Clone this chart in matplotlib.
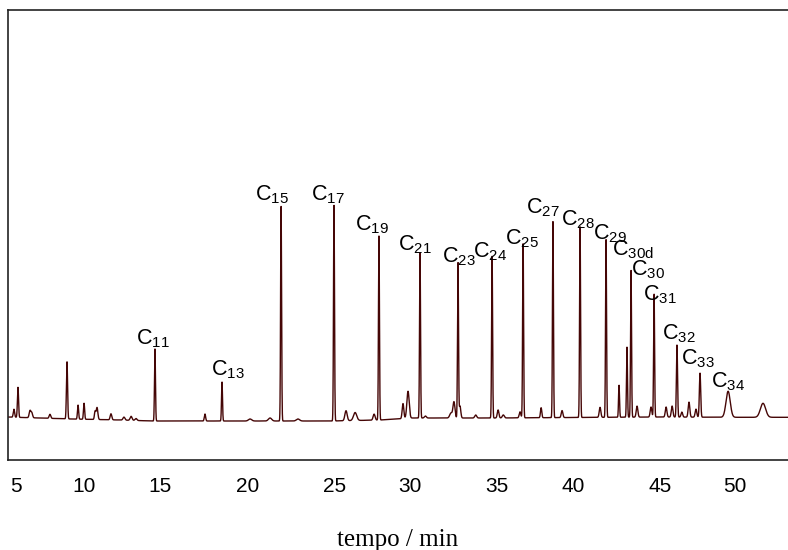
import numpy as np
import matplotlib.pyplot as plt

# peak table: retention time (min), height above baseline, width (sigma, min)
peak_times = [5.45, 5.70, 6.44, 6.55, 7.67, 8.72, 9.40, 9.77, 10.45, 10.57,
              11.43, 12.23, 12.67, 12.97, 14.14, 17.22, 18.27, 20.00, 21.23, 21.91,
              22.95, 25.17, 25.91, 26.47, 27.64, 27.94, 29.42, 29.73, 30.47, 30.80,
              32.38, 32.56, 32.81, 32.93, 33.90, 34.91, 35.28, 35.60, 36.63, 36.82,
              37.93, 38.66, 39.22, 40.33, 41.56, 41.93, 42.73, 43.22, 43.47, 43.84,
              44.70, 44.89, 45.63, 46.00, 46.30, 46.60, 47.04, 47.47, 47.72, 49.45,
              51.60]
peak_heights = [8, 30, 7, 5, 4, 57, 14, 16, 8, 12,
                6, 3, 4, 2, 72, 7, 39, 2, 3, 215,
                2, 216, 10, 8, 6, 184, 15, 27, 165, 2,
                5, 16, 155, 12, 3, 162, 8, 3, 6, 174,
                10, 196, 7, 191, 10, 178, 32, 70, 147, 11,
                10, 123, 10, 11, 72, 5, 15, 8, 44, 26,
                14]
peak_widths = [0.04, 0.035, 0.05, 0.05, 0.05, 0.035, 0.035, 0.035, 0.04, 0.05,
               0.05, 0.06, 0.06, 0.06, 0.03, 0.04, 0.03, 0.1, 0.1, 0.03,
               0.1, 0.03, 0.07, 0.1, 0.06, 0.03, 0.05, 0.07, 0.03, 0.06,
               0.08, 0.06, 0.03, 0.05, 0.06, 0.03, 0.05, 0.06, 0.05, 0.03,
               0.04, 0.03, 0.05, 0.03, 0.05, 0.03, 0.03, 0.03, 0.03, 0.05,
               0.05, 0.03, 0.05, 0.05, 0.035, 0.05, 0.05, 0.05, 0.04, 0.13,
               0.16]

# baseline level read at a few times
base_times = [5.0, 6.0, 7.0, 9.0, 12.0, 14.0, 18.0, 22.0, 25.0, 28.0, 30.0, 35.0, 40.0, 45.0, 50.0, 53.2]
base_level = [43, 42.5, 42, 41, 40, 39, 39, 39, 39, 40, 42, 42, 42.5, 43, 42.7, 42.7]

# x tick labels and where they sit on the original figure
tick_labels = ['5', '10', '15', '20', '25', '30', '35', '40', '45', '50']
tick_at = [5.58, 9.77, 14.45, 19.87, 25.23, 29.85, 35.21, 39.90, 45.26, 49.88]

# annotated n-alkanes
labels = ['11', '13', '15', '17', '19', '21', '23', '24', '25', '27',
          '28', '29', '30d', '30', '31', '32', '33', '34']
# label placement (left, top) in data coords
label_xy = [(12.97, 133), (17.59, 102), (20.30, 277), (23.75, 277), (26.47, 247),
            (29.11, 227), (31.83, 215), (33.74, 220), (35.71, 233), (37.00, 264),
            (39.16, 252), (41.13, 238), (42.30, 222), (43.47, 202), (44.21, 177),
            (45.38, 138), (46.55, 113), (48.40, 90)]

plt.rcParams['mathtext.fontset'] = 'custom'
plt.rcParams['mathtext.rm'] = 'Liberation Sans'
plt.rcParams['mathtext.it'] = 'Liberation Sans:italic'
plt.rcParams['mathtext.bf'] = 'Liberation Sans:bold'

t = np.arange(5.0, 53.3, 0.004)
signal = np.interp(t, base_times, base_level)
for tr, h, w in zip(peak_times, peak_heights, peak_widths):
    signal += h * np.exp(-0.5 * ((t - tr) / w) ** 2)

fig = plt.figure(figsize=(7.88, 5.5), dpi=100)
ax = fig.add_axes([8 / 788, 90 / 550, 780 / 788, 450 / 550])
ax.plot(t, signal, color='#450606', linewidth=1.0)

for name, (lx, ly) in zip(labels, label_xy):
    ax.text(lx, ly, r'$\mathrm{C_{%s}}$' % name, fontsize=15.5, ha='left', va='top',
            color='black')

ax.set_xlim(5.085, 53.14)
ax.set_ylim(0, 450)
ax.set_xticks(tick_at)
ax.set_xticklabels(tick_labels, fontfamily='Liberation Sans')
ax.set_yticks([])
ax.tick_params(axis='x', length=0, pad=12, labelsize=15)

ax.spines['right'].set_visible(False)
for s in ['left', 'top', 'bottom']:
    ax.spines[s].set_linewidth(1.2)
    ax.spines[s].set_color('#222222')

ax.set_xlabel('tempo / min', fontsize=18, fontfamily='Liberation Serif')
ax.xaxis.set_label_coords(0.5, -0.153)
ax.xaxis.label.set_va('top')

fig.savefig('out.png', dpi=100)
